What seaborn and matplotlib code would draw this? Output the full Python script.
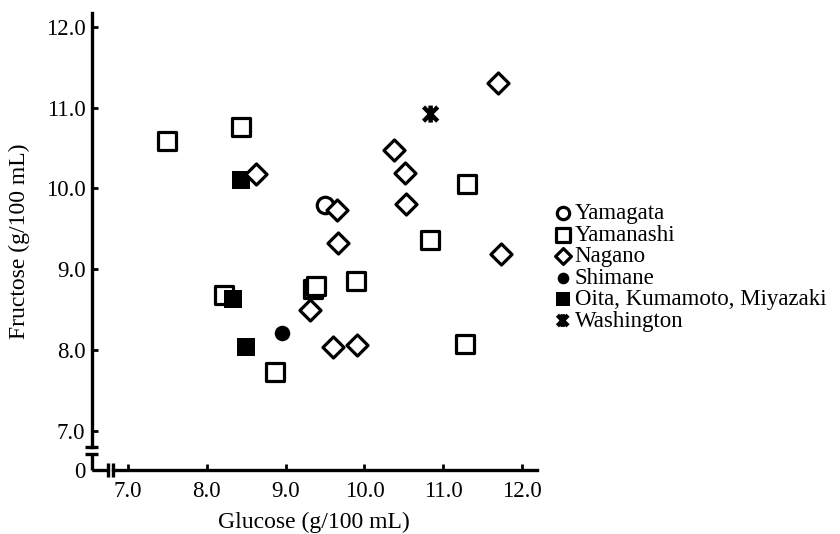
import matplotlib
matplotlib.use("Agg")
import matplotlib.pyplot as plt
from matplotlib.path import Path
import seaborn as sns
import pandas as pd

# ---- data ----
yamagata_x = [9.50]
yamagata_y = [9.79]
yamanashi_x = [7.49, 8.44, 10.83, 11.30, 11.28, 8.22, 9.35, 9.38, 9.89, 8.87]
yamanashi_y = [10.59, 10.76, 9.36, 10.05, 8.08, 8.68, 8.76, 8.79, 8.86, 7.73]
nagano_x = [8.62, 9.65, 9.67, 10.38, 10.51, 10.53, 11.69, 11.73, 9.31, 9.60, 9.91]
nagano_y = [10.18, 9.73, 9.33, 10.47, 10.19, 9.81, 11.31, 9.19, 8.50, 8.04, 8.06]
shimane_x = [8.95]
shimane_y = [8.21]
oita_x = [8.44, 8.33, 8.50]
oita_y = [10.10, 8.63, 8.04]
washington_x = [10.84]
washington_y = [10.92]

x_ticks = [7.0, 8.0, 9.0, 10.0, 11.0, 12.0]
x_ticklabels = ["7.0", "8.0", "9.0", "10.0", "11.0", "12.0"]
y_ticks = [7.0, 8.0, 9.0, 10.0, 11.0, 12.0]
y_ticklabels = ["7.0", "8.0", "9.0", "10.0", "11.0", "12.0"]

labels = ["Yamagata", "Yamanashi", "Nagano", "Shimane",
          "Oita, Kumamoto, Miyazaki", "Washington"]

sns.set_style("ticks")
plt.rcParams["font.family"] = ["Liberation Serif", "DejaVu Serif"]
plt.rcParams["text.color"] = "black"
plt.rcParams["axes.labelcolor"] = "black"
plt.rcParams["xtick.color"] = "black"
plt.rcParams["ytick.color"] = "black"
FS = 16.5

fig = plt.figure(figsize=(8.4, 5.34), dpi=100)
W, H = 840, 534
ax = fig.add_axes([91.7 / W, (H - 470) / H, (537 - 91.7) / W, (470 - 13) / H])

XMIN, XMAX = 6.539, 12.19
YMIN, YMAX = 6.518, 12.17

# washington marker: X plus vertical bar
xmark = Path([(-1, -1), (1, 1), (-1, 1), (1, -1), (0, -1.2), (0, 1.2)],
             [Path.MOVETO, Path.LINETO, Path.MOVETO, Path.LINETO, Path.MOVETO, Path.LINETO])

lw = 2.3
groups = [
    ("Yamagata", yamagata_x, yamagata_y, dict(marker="o", s=140, facecolor="white", edgecolor="black", linewidth=lw)),
    ("Yamanashi", yamanashi_x, yamanashi_y, dict(marker="s", s=175, facecolor="white", edgecolor="black", linewidth=lw)),
    ("Shimane", shimane_x, shimane_y, dict(marker="o", s=125, facecolor="black", edgecolor="black", linewidth=0)),
    ("Oita, Kumamoto, Miyazaki", oita_x, oita_y, dict(marker="s", s=160, facecolor="black", edgecolor="black", linewidth=0)),
    ("Nagano", nagano_x, nagano_y, dict(marker="D", s=115, facecolor="white", edgecolor="black", linewidth=lw)),
    ("Washington", washington_x, washington_y, dict(marker=xmark, s=150, facecolor="none", edgecolor="black", linewidth=3.2)),
]
for name, xs, ys, kw in groups:
    df = pd.DataFrame({"Glucose": xs, "Fructose": ys})
    sns.scatterplot(data=df, x="Glucose", y="Fructose", ax=ax, label=name,
                    clip_on=False, zorder=3, **kw)

ax.set_xlim(XMIN, XMAX)
ax.set_ylim(YMIN, YMAX)
ax.set_xticks(x_ticks)
ax.set_xticklabels(x_ticklabels)
ax.set_yticks([YMIN] + y_ticks)
ax.set_yticklabels(["0"] + y_ticklabels)
ax.tick_params(direction="in", length=4, width=2, labelsize=FS, colors="black")
ax.tick_params(axis="x", pad=8)
ax.tick_params(axis="y", pad=4.5)
ax.set_xlabel("Glucose (g/100 mL)", fontsize=17, labelpad=7, color="black")
ax.set_ylabel("Fructose (g/100 mL)", fontsize=17, labelpad=11, color="black")

# spines with breaks
spw = 2.4
for s in ["top", "right"]:
    ax.spines[s].set_visible(False)
ax.spines["left"].set_linewidth(spw)
ax.spines["bottom"].set_linewidth(spw)
ax.spines["left"].set_color("black")
ax.spines["bottom"].set_color("black")
ybr_hi, ybr_lo = 6.80, 6.716
xbr_lo, xbr_hi = 6.75, 6.81
ax.spines["left"].set_bounds(ybr_hi, YMAX)
ax.spines["bottom"].set_bounds(xbr_hi, XMAX)
line_kw = dict(color="black", lw=spw, clip_on=False, solid_capstyle="butt", zorder=4)
ax.plot([XMIN, XMIN], [YMIN, ybr_lo], **line_kw)
ax.plot([XMIN, xbr_lo], [YMIN, YMIN], **line_kw)
dx = 6.7 / 78.8
ax.plot([XMIN - dx, XMIN + dx], [ybr_hi, ybr_hi], **line_kw)
ax.plot([XMIN - dx, XMIN + dx], [ybr_lo, ybr_lo], **line_kw)
dy = 7.5 / 80.9
ax.plot([xbr_lo, xbr_lo], [YMIN - dy, YMIN + dy], **line_kw)
ax.plot([xbr_hi, xbr_hi], [YMIN - dy, YMIN + dy], **line_kw)

# legend in reference order
handles, labs = ax.get_legend_handles_labels()
hmap = dict(zip(labs, handles))
leg = ax.legend([hmap[l] for l in labels], labels, loc="upper left",
                bbox_to_anchor=(553 / W, (H - 203) / H), bbox_transform=fig.transFigure,
                frameon=False, markerscale=0.75, handletextpad=0.1, handlelength=0.85,
                labelspacing=0.02, borderpad=0, borderaxespad=0, fontsize=FS)

fig.savefig("out.png", dpi=100)
